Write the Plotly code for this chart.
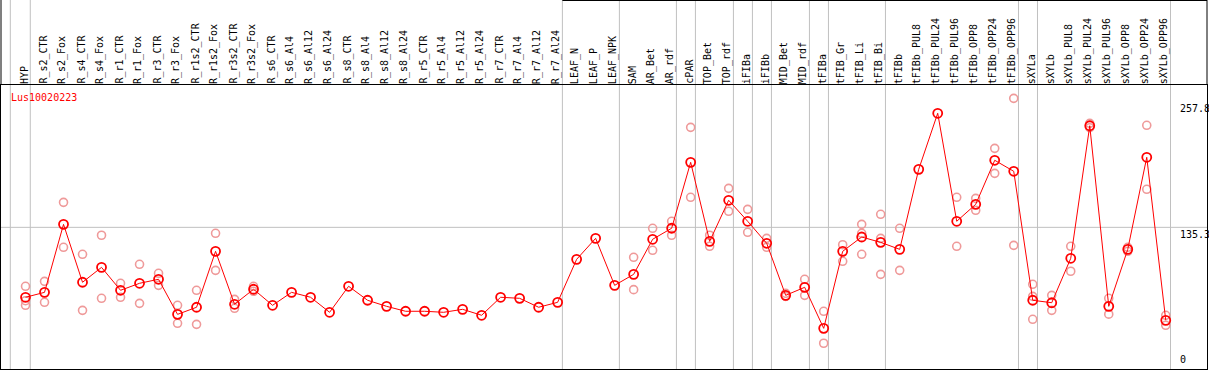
import plotly.graph_objects as go

categories = [
    "HYP", "R_s2_CTR", "R_s2_Fox", "R_s4_CTR", "R_s4_Fox", "R_r1_CTR", "R_r1_Fox",
    "R_r3_CTR", "R_r3_Fox", "R_r1s2_CTR", "R_r1s2_Fox", "R_r3s2_CTR", "R_r3s2_Fox",
    "R_s6_CTR", "R_s6_Al4", "R_s6_Al12", "R_s6_Al24", "R_s8_CTR", "R_s8_Al4",
    "R_s8_Al12", "R_s8_Al24", "R_r5_CTR", "R_r5_Al4", "R_r5_Al12", "R_r5_Al24",
    "R_r7_CTR", "R_r7_Al4", "R_r7_Al12", "R_r7_Al24", "LEAF_N", "LEAF_P", "LEAF_NPK",
    "SAM", "AR_Bet", "AR_rdf", "cPAR", "TOP_Bet", "TOP_rdf", "iFIBa", "iFIBb",
    "MID_Bet", "MID_rdf", "tFIBa", "tFIB_Gr", "tFIB_Li", "tFIB_Bi", "tFIBb",
    "tFIBb_PUL8", "tFIBb_PUL24", "tFIBb_PUL96", "tFIBb_OPP8", "tFIBb_OPP24",
    "tFIBb_OPP96", "sXYLa", "sXYLb", "sXYLb_PUL8", "sXYLb_PUL24", "sXYLb_PUL96",
    "sXYLb_OPP8", "sXYLb_OPP24", "sXYLb_OPP96",
]

mean_values = [
    67.3, 72.1, 138.2, 81.9, 96.4, 74.1, 80.9, 84.8, 50.7, 57.6, 112.0, 60.5, 75.1,
    59.5, 72.1, 67.3, 52.7, 78.0, 64.4, 58.5, 53.7, 53.7, 52.7, 55.6, 49.8,
    67.3, 66.3, 57.6, 62.4, 104.2, 124.6, 78.9,
    89.6, 123.7, 134.4, 198.5, 121.7, 161.6, 141.2, 119.8,
    69.2, 77.0, 37.1, 112.0, 125.9, 120.7, 113.9,
    191.7, 246.2, 141.2, 157.7, 200.5, 189.8,
    64.4, 62.0, 105.2, 234.1, 58.5, 113.9, 203.4, 44.9,
]

replicate_values = [
    [78.0, 64.0, 59.5], [82.8, 62.4], [159.6, 115.9], [109.1, 54.6], [127.6, 66.3],
    [80.9, 67.3], [99.4, 61.4], [90.6, 78.9], [59.5, 42.0], [74.1, 41.0],
    [129.5, 93.5], [65.3, 56.6], [78.0, 73.1],
    [], [], [], [], [], [], [], [], [], [], [], [], [], [], [], [],
    [], [], [],
    [106.2, 74.7], [134.4, 113.0], [141.2, 127.6], [232.5, 164.5], [127.6, 116.9],
    [173.2, 150.9], [152.8, 130.5], [124.6, 115.9],
    [71.2, 68.2], [84.8, 69.2], [53.7, 22.6], [118.4, 102.3],
    [138.2, 129.5, 109.1], [148.0, 124.6, 89.6], [134.4, 93.5],
    [], [], [164.5, 116.9], [163.5, 151.9], [212.1, 187.8], [260.7, 117.8],
    [79.9, 68.2, 45.9], [69.2, 54.6], [116.9, 92.6], [236.4, 232.2],
    [66.3, 50.9], [115.9, 112.0], [234.5, 172.3], [49.8, 40.1],
]

y_tick_values = [257.8, 135.3, 0]
y_tick_labels = ["257.8", "135.3", "0"]
gene_name = "Lus10020223"

# group separators drawn just after these categories
group_ends = ["HYP", "R_r7_Al24", "LEAF_NPK", "AR_rdf", "cPAR", "TOP_rdf", "iFIBa",
              "iFIBb", "MID_rdf", "tFIBa", "tFIB_Bi", "tFIBb_OPP96", "sXYLa", "sXYLb_OPP96"]

W, H = 1209, 370
ML, MR, MT, MB = 1, 2, 85, 1
plot_h = H - MT - MB
top_paper = 1 + (MT - 0.5) / plot_h

rep_x, rep_y = [], []
for c, reps in zip(categories, replicate_values):
    for v in reps:
        rep_x.append(c)
        rep_y.append(v)

fig = go.Figure()
fig.add_trace(go.Scatter(
    x=rep_x, y=rep_y, mode="markers",
    marker=dict(symbol="circle-open", size=8, color="#ef9a9a", line=dict(width=1.6, color="#ef9a9a")),
    hoverinfo="skip", showlegend=False,
))
fig.add_trace(go.Scatter(
    x=categories, y=mean_values, mode="lines+markers",
    line=dict(color="#ff0000", width=1),
    marker=dict(symbol="circle-open", size=9, color="#ff0000", line=dict(width=1.8, color="#ff0000")),
    showlegend=False,
))

shapes = []
idx = {c: i for i, c in enumerate(categories)}
shapes.append(dict(type="line", xref="x", yref="paper", x0=-0.8, x1=-0.8, y0=0, y1=top_paper + 0.01,
                   line=dict(color="#c0c0c0", width=1), layer="below"))
for c in group_ends:
    xv = idx[c] + 0.25
    shapes.append(dict(type="line", xref="x", yref="paper", x0=xv, x1=xv, y0=0, y1=top_paper + 0.01,
                       line=dict(color="#c0c0c0", width=1), layer="below"))
shapes.append(dict(type="line", xref="paper", yref="y", x0=0, x1=1, y0=135.3, y1=135.3,
                   line=dict(color="#c0c0c0", width=1), layer="below"))
shapes.append(dict(type="line", xref="x", yref="paper", x0=idx["R_r7_Al24"] + 0.25, x1=62.3,
                   y0=top_paper, y1=top_paper, line=dict(color="black", width=1)))
shapes.append(dict(type="line", xref="paper", yref="paper", x0=1, x1=1, y0=1, y1=top_paper + 0.01,
                   line=dict(color="black", width=1)))
shapes.append(dict(type="line", xref="paper", yref="paper", x0=0, x1=0, y0=1, y1=top_paper + 0.01,
                   line=dict(color="black", width=1)))

annotations = []
for c in categories:
    annotations.append(dict(
        x=c, xref="x", y=1, yref="paper", yanchor="bottom", xanchor="center",
        text=c, textangle=-90, showarrow=False, xshift=-1.5, yshift=-1,
        font=dict(family="DejaVu Sans Mono", size=10, color="black"),
    ))
for v, t in zip(y_tick_values, y_tick_labels):
    annotations.append(dict(
        x=1, xref="paper", xanchor="left", xshift=-29,
        y=v, yref="y", yanchor="bottom" if v == 0 else "top",
        text=t, showarrow=False,
        font=dict(family="DejaVu Sans Mono", size=10, color="black"),
    ))
annotations.append(dict(
    x=0, xref="paper", xanchor="left", xshift=8,
    y=1, yref="paper", yanchor="top", yshift=-5,
    text=gene_name, showarrow=False,
    font=dict(family="DejaVu Sans Mono", size=10, color="#ff0000"),
))

fig.update_layout(
    width=W, height=H,
    margin=dict(l=ML, r=MR, t=MT, b=MB, pad=0),
    plot_bgcolor="white", paper_bgcolor="white",
    shapes=shapes, annotations=annotations,
    xaxis=dict(type="category", categoryorder="array", categoryarray=categories,
               range=[-1.29, 62.17], showgrid=False, showticklabels=False, ticks="",
               zeroline=False, showline=True, mirror=True, linecolor="black", linewidth=1),
    yaxis=dict(range=[-2.43, 273.7], showgrid=False, showticklabels=False, ticks="",
               zeroline=False, showline=True, mirror=True, linecolor="black", linewidth=1),
)

fig.write_html(
    "out.html",
    config={"displayModeBar": False},
    post_script="document.body.style.margin='0';document.body.style.overflow='hidden';",
)
